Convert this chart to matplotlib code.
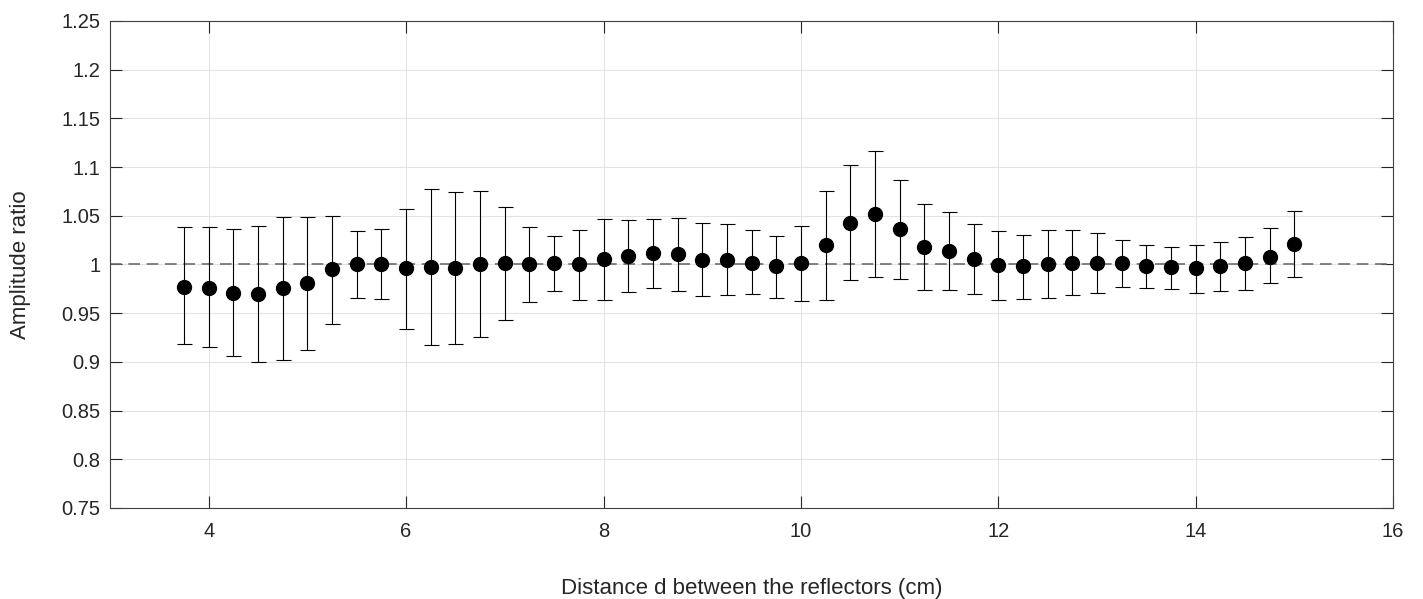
import matplotlib
matplotlib.use("Agg")
import matplotlib.pyplot as plt
import numpy as np

plt.rcParams["font.family"] = ["Liberation Sans", "DejaVu Sans"]

# distance d between the reflectors (cm)
distance = np.arange(3.75, 15.01, 0.25)

# measured amplitude ratio
ratio = [
    0.977, 0.976, 0.971, 0.970, 0.976, 0.981, 0.995, 1.000, 1.000, 0.996,
    0.997, 0.996, 1.000, 1.001, 1.000, 1.002, 1.000, 1.006, 1.009, 1.012,
    1.011, 1.005, 1.005, 1.002, 0.998, 1.001, 1.020, 1.043, 1.052, 1.036,
    1.018, 1.014, 1.006, 0.999, 0.998, 1.000, 1.002, 1.001, 1.001, 0.998,
    0.997, 0.996, 0.998, 1.001, 1.008, 1.021,
]

# upper / lower end of each error bar
upper = [
    1.038, 1.038, 1.036, 1.039, 1.049, 1.049, 1.050, 1.034, 1.036, 1.057,
    1.077, 1.074, 1.075, 1.059, 1.038, 1.029, 1.035, 1.047, 1.046, 1.047,
    1.048, 1.043, 1.042, 1.035, 1.029, 1.039, 1.075, 1.102, 1.116, 1.087,
    1.062, 1.054, 1.042, 1.034, 1.030, 1.035, 1.035, 1.032, 1.025, 1.020,
    1.018, 1.020, 1.023, 1.028, 1.037, 1.055,
]
lower = [
    0.918, 0.915, 0.906, 0.900, 0.902, 0.912, 0.939, 0.966, 0.965, 0.934,
    0.917, 0.918, 0.926, 0.943, 0.961, 0.973, 0.964, 0.964, 0.972, 0.976,
    0.973, 0.968, 0.969, 0.970, 0.966, 0.962, 0.963, 0.984, 0.987, 0.985,
    0.974, 0.974, 0.970, 0.964, 0.965, 0.966, 0.969, 0.971, 0.977, 0.976,
    0.975, 0.971, 0.973, 0.974, 0.981, 0.987,
]

ratio = np.array(ratio)
yerr = [ratio - np.array(lower), np.array(upper) - ratio]

fig = plt.figure(figsize=(14.23, 5.99), dpi=100)
ax = fig.add_axes([0.0773, 0.152, 0.9017, 0.813])

ax.axhline(1.0, color="#6e6e6e", lw=1.2, ls=(0, (7, 4)), zorder=1)
ax.errorbar(distance, ratio, yerr=yerr, fmt="o", color="black", ms=10,
            ecolor="black", elinewidth=0.8, capsize=5.4, capthick=0.8, zorder=3)

ax.set_xlim(3, 16)
ax.set_ylim(0.75, 1.25)
ax.set_xticks(np.arange(4, 17, 2))
ax.set_yticks(np.arange(0.75, 1.2501, 0.05))
ax.set_yticklabels(["0.75", "0.8", "0.85", "0.9", "0.95", "1",
                    "1.05", "1.1", "1.15", "1.2", "1.25"])
ax.grid(True, color="#e3e3e3", lw=0.8, zorder=0)
ax.set_axisbelow(True)

ax.tick_params(direction="in", length=8.5, width=0.8, top=True, right=True,
               labelsize=14.5, colors="#262626")
ax.tick_params(axis="x", pad=10)
ax.tick_params(axis="y", pad=7)
for s in ax.spines.values():
    s.set_color("#404040")
    s.set_linewidth(0.8)

ax.set_xlabel("Distance d between the reflectors (cm)", fontsize=16,
              color="#262626", labelpad=27)
ax.set_ylabel("Amplitude ratio", fontsize=16, color="#262626", labelpad=22)

fig.savefig("out.png", dpi=100)
